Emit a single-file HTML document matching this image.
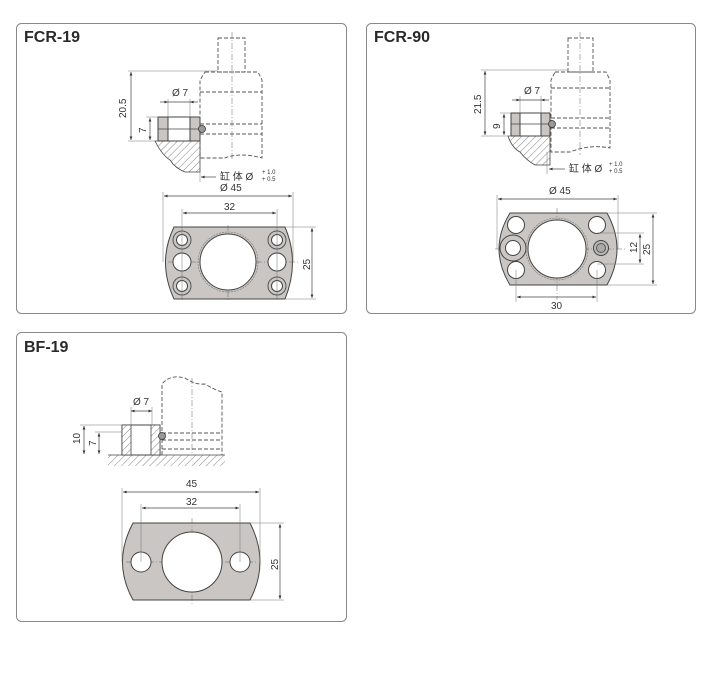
<!DOCTYPE html>
<html><head><meta charset="utf-8"><style>
body{margin:0;background:#fff;width:720px;height:692px;overflow:hidden}
svg{display:block}
text{font-family:"Liberation Sans","Noto Sans CJK SC",sans-serif;fill:#333}
.t{font-weight:bold;font-size:16px;fill:#2a2a2a}
.d{font-size:10px}
.box{fill:none;stroke:#888;stroke-width:1}
.pl{fill:#c9c6c3;stroke:#444;stroke-width:1}
.h{fill:#fff;stroke:#444;stroke-width:1}
.dim{stroke:#444;stroke-width:0.7;fill:none}
.ext{stroke:#777;stroke-width:0.5;fill:none}
.cl{stroke:#666;stroke-width:0.5;stroke-dasharray:6 2 1 2;fill:none}
.ds{stroke:#555;stroke-width:0.9;stroke-dasharray:4 2;fill:none}
.hat{fill:url(#hatch);stroke:#444;stroke-width:0.8}
</style></head><body>
<svg width="720" height="692" viewBox="0 0 720 692" xmlns="http://www.w3.org/2000/svg">
<defs>
<marker id="a" viewBox="0 0 10 10" refX="10" refY="5" markerWidth="7" markerHeight="5" orient="auto-start-reverse"><path d="M0,1 L10,5 L0,9 z" fill="#333"/></marker>
<pattern id="hatch" width="5" height="5" patternUnits="userSpaceOnUse" patternTransform="rotate(45)"><rect width="5" height="5" fill="#fff"/><line x1="0" y1="0" x2="0" y2="5" stroke="#666" stroke-width="0.8"/></pattern>
</defs>
<rect class="box" x="16.5" y="23.5" width="330" height="290" rx="5"/>
<rect class="box" x="366.5" y="23.5" width="329" height="290" rx="5"/>
<rect class="box" x="16.5" y="332.5" width="330" height="289" rx="5"/>
<text class="t" x="24" y="42">FCR-19</text>
<text class="t" x="374" y="42">FCR-90</text>
<text class="t" x="24" y="352">BF-19</text>

<!-- FCR-19 side -->
<line class="cl" x1="232" y1="32" x2="232" y2="160"/>
<rect class="ds" x="218" y="38" width="27" height="34"/>
<path class="ds" d="M205,72 H258 L262,80 V158 Q240,152 225,158 H200 V80 Z"/>
<line class="ds" x1="200" y1="92" x2="262" y2="92"/>
<line class="ds" x1="200" y1="124" x2="262" y2="124"/>
<line class="ds" x1="200" y1="134" x2="262" y2="134"/>
<path class="hat" d="M155,141 H200 V172 H185 Q175,168 170,160 Q162,155 155,141 Z"/>
<rect class="pl" x="158" y="117" width="42" height="24"/>
<rect class="h" x="168" y="117" width="22" height="24"/>
<line class="dim" x1="158" y1="129" x2="200" y2="129"/>
<circle cx="202" cy="129" r="3.5" fill="#999" stroke="#333" stroke-width="0.8"/>
<line class="ext" x1="128" y1="71" x2="218" y2="71"/><line class="ext" x1="128" y1="141" x2="158" y2="141"/>
<line class="dim" x1="131" y1="72" x2="131" y2="140" marker-start="url(#a)" marker-end="url(#a)"/>
<text class="d" transform="translate(126,118) rotate(-90)">20.5</text>
<line class="ext" x1="146" y1="117" x2="158" y2="117"/>
<line class="dim" x1="150" y1="118" x2="150" y2="140" marker-start="url(#a)" marker-end="url(#a)"/>
<text class="d" transform="translate(146,133) rotate(-90)">7</text>
<line class="ext" x1="168" y1="99" x2="168" y2="117"/><line class="ext" x1="190" y1="99" x2="190" y2="117"/>
<line class="dim" x1="160" y1="102" x2="168" y2="102" marker-end="url(#a)"/><line class="dim" x1="198" y1="102" x2="190" y2="102" marker-end="url(#a)"/>
<line class="dim" x1="168" y1="102" x2="190" y2="102"/>
<text class="d" x="172" y="96">Ø 7</text>
<line class="ext" x1="200" y1="158" x2="200" y2="182"/>
<line class="dim" x1="216" y1="177" x2="201" y2="177" marker-end="url(#a)"/>
<text class="d" x="220" y="180">缸 体 Ø</text><text x="262" y="174" font-size="6">+ 1.0</text><text x="262" y="181" font-size="6">+ 0.5</text>

<!-- FCR-19 plate -->
<path class="pl" d="M174,227 H285 Q300,262 285,299 H174 Q157,262 174,227 Z"/>
<line class="cl" x1="168" y1="262" x2="298" y2="262"/>
<line class="cl" x1="228" y1="225" x2="228" y2="302"/>
<circle class="h" cx="228" cy="262" r="28"/>
<circle cx="228" cy="262" r="30" fill="none" stroke="#777" stroke-width="0.6" stroke-dasharray="2 1"/>
<circle class="h" cx="182" cy="262" r="9"/><circle class="h" cx="277" cy="262" r="9"/>
<circle fill="none" stroke="#555" cx="182" cy="240" r="9"/><circle class="h" cx="182" cy="240" r="5.5"/>
<circle fill="none" stroke="#555" cx="182" cy="286" r="9"/><circle class="h" cx="182" cy="286" r="5.5"/>
<circle fill="none" stroke="#555" cx="277" cy="240" r="9"/><circle class="h" cx="277" cy="240" r="5.5"/>
<circle fill="none" stroke="#555" cx="277" cy="286" r="9"/><circle class="h" cx="277" cy="286" r="5.5"/>
<line class="ext" x1="163" y1="192" x2="163" y2="262"/><line class="ext" x1="293" y1="192" x2="293" y2="262"/>
<line class="dim" x1="164" y1="196" x2="292" y2="196" marker-start="url(#a)" marker-end="url(#a)"/>
<text class="d" x="220" y="191">Ø 45</text>
<line class="ext" x1="182" y1="209" x2="182" y2="300"/><line class="ext" x1="277" y1="209" x2="277" y2="300"/>
<line class="dim" x1="183" y1="213" x2="276" y2="213" marker-start="url(#a)" marker-end="url(#a)"/>
<text class="d" x="224" y="210">32</text>
<line class="ext" x1="285" y1="227" x2="316" y2="227"/><line class="ext" x1="285" y1="299" x2="316" y2="299"/>
<line class="dim" x1="312" y1="228" x2="312" y2="298" marker-start="url(#a)" marker-end="url(#a)"/>
<text class="d" transform="translate(310,270) rotate(-90)">25</text>

<!-- FCR-90 side -->
<line class="cl" x1="580" y1="32" x2="580" y2="155"/>
<rect class="ds" x="568" y="38" width="25" height="34"/>
<path class="ds" d="M555,72 H606 L610,80 V148 Q590,144 570,152 H551 V80 Z"/>
<line class="ds" x1="551" y1="88" x2="610" y2="88"/>
<line class="ds" x1="551" y1="118" x2="610" y2="118"/>
<line class="ds" x1="551" y1="128" x2="610" y2="128"/>
<path class="hat" d="M508,136 H550 V165 H535 Q526,160 520,152 Q512,148 508,136 Z"/>
<rect class="pl" x="511" y="113" width="39" height="23"/>
<rect class="h" x="520" y="113" width="21" height="23"/>
<line class="dim" x1="511" y1="124" x2="550" y2="124"/>
<circle cx="552" cy="124" r="3.5" fill="#999" stroke="#333" stroke-width="0.8"/>
<line class="ext" x1="481" y1="70" x2="568" y2="70"/><line class="ext" x1="481" y1="136" x2="511" y2="136"/>
<line class="dim" x1="485" y1="71" x2="485" y2="135" marker-start="url(#a)" marker-end="url(#a)"/>
<text class="d" transform="translate(481,114) rotate(-90)">21.5</text>
<line class="ext" x1="500" y1="113" x2="511" y2="113"/>
<line class="dim" x1="504" y1="114" x2="504" y2="135" marker-start="url(#a)" marker-end="url(#a)"/>
<text class="d" transform="translate(500,129) rotate(-90)">9</text>
<line class="ext" x1="520" y1="96" x2="520" y2="113"/><line class="ext" x1="541" y1="96" x2="541" y2="113"/>
<line class="dim" x1="512" y1="100" x2="520" y2="100" marker-end="url(#a)"/><line class="dim" x1="549" y1="100" x2="541" y2="100" marker-end="url(#a)"/>
<line class="dim" x1="520" y1="100" x2="541" y2="100"/>
<text class="d" x="524" y="94">Ø 7</text>
<line class="ext" x1="547" y1="152" x2="547" y2="174"/>
<line class="dim" x1="565" y1="169" x2="549" y2="169" marker-end="url(#a)"/>
<text class="d" x="569" y="172">缸 体 Ø</text><text x="609" y="166" font-size="6">+ 1.0</text><text x="609" y="173" font-size="6">+ 0.5</text>

<!-- FCR-90 plate -->
<path class="pl" d="M510,213 H607 Q627,249 607,285 H510 Q488,249 510,213 Z"/>
<line class="cl" x1="495" y1="249" x2="625" y2="249"/>
<line class="cl" x1="557" y1="208" x2="557" y2="300"/>
<circle class="h" cx="557" cy="249" r="29"/>
<circle cx="557" cy="249" r="31" fill="none" stroke="#777" stroke-width="0.6" stroke-dasharray="2 1"/>
<circle class="h" cx="516" cy="225" r="8.5"/><circle class="h" cx="516" cy="270" r="8.5"/>
<circle class="h" cx="597" cy="225" r="8.5"/><circle class="h" cx="597" cy="270" r="8.5"/>
<circle fill="#c9c6c3" stroke="#444" cx="513" cy="248" r="13"/><circle class="h" cx="513" cy="248" r="7.5"/>
<circle fill="#bbb" stroke="#444" cx="601" cy="248" r="7.5"/><circle fill="#aaa" stroke="#555" cx="601" cy="248" r="4.5"/>
<line class="ext" x1="497" y1="195" x2="497" y2="249"/><line class="ext" x1="618" y1="195" x2="618" y2="249"/>
<line class="dim" x1="498" y1="199" x2="617" y2="199" marker-start="url(#a)" marker-end="url(#a)"/>
<text class="d" x="549" y="194">Ø 45</text>
<line class="ext" x1="597" y1="233" x2="644" y2="233"/><line class="ext" x1="597" y1="264" x2="644" y2="264"/>
<line class="dim" x1="640" y1="234" x2="640" y2="263" marker-start="url(#a)" marker-end="url(#a)"/>
<text class="d" transform="translate(637,253) rotate(-90)">12</text>
<line class="ext" x1="607" y1="213" x2="657" y2="213"/><line class="ext" x1="607" y1="285" x2="657" y2="285"/>
<line class="dim" x1="653" y1="214" x2="653" y2="284" marker-start="url(#a)" marker-end="url(#a)"/>
<text class="d" transform="translate(650,255) rotate(-90)">25</text>
<line class="ext" x1="516" y1="270" x2="516" y2="302"/><line class="ext" x1="597" y1="270" x2="597" y2="302"/>
<line class="dim" x1="517" y1="297" x2="596" y2="297" marker-start="url(#a)" marker-end="url(#a)"/>
<text class="d" x="551" y="309">30</text>

<!-- BF-19 side -->
<line class="cl" x1="192" y1="378" x2="192" y2="455"/>
<path class="ds" d="M162,455 V384 Q170,374 185,378 Q195,385 205,384 Q215,390 222,392 V455"/>
<line class="ds" x1="162" y1="433" x2="222" y2="433"/>
<line class="ds" x1="162" y1="440" x2="222" y2="440"/>
<line class="ds" x1="162" y1="449" x2="222" y2="449"/>
<rect x="108" y="455" width="117" height="11" fill="url(#hatch)"/>
<line x1="108" y1="455" x2="225" y2="455" stroke="#444" stroke-width="0.8"/>
<rect class="h" x="122" y="425" width="38" height="30"/>
<rect class="hat" x="122" y="425" width="9" height="30"/>
<rect class="hat" x="151" y="425" width="9" height="30"/>
<circle cx="162" cy="436" r="3.5" fill="#999" stroke="#333" stroke-width="0.8"/>
<line class="ext" x1="80" y1="425" x2="122" y2="425"/><line class="ext" x1="95" y1="432" x2="122" y2="432"/>
<line class="dim" x1="84" y1="426" x2="84" y2="454" marker-start="url(#a)" marker-end="url(#a)"/>
<text class="d" transform="translate(80,444) rotate(-90)">10</text>
<line class="dim" x1="99" y1="433" x2="99" y2="454" marker-start="url(#a)" marker-end="url(#a)"/>
<text class="d" transform="translate(96,446) rotate(-90)">7</text>
<line class="ext" x1="131" y1="407" x2="131" y2="425"/><line class="ext" x1="152" y1="407" x2="152" y2="425"/>
<line class="dim" x1="131" y1="411" x2="152" y2="411" marker-start="url(#a)" marker-end="url(#a)"/>
<text class="d" x="133" y="405">Ø 7</text>

<!-- BF-19 plate -->
<path class="pl" d="M133,523 H250 Q270,562 250,600 H133 Q112,562 133,523 Z"/>
<line class="cl" x1="126" y1="562" x2="258" y2="562"/>
<line class="cl" x1="192" y1="518" x2="192" y2="604"/>
<circle class="h" cx="192" cy="562" r="30"/>
<circle class="h" cx="141" cy="562" r="10"/><circle class="h" cx="240" cy="562" r="10"/>
<line class="ext" x1="122" y1="488" x2="122" y2="562"/><line class="ext" x1="260" y1="488" x2="260" y2="562"/>
<line class="dim" x1="123" y1="492" x2="259" y2="492" marker-start="url(#a)" marker-end="url(#a)"/>
<text class="d" x="186" y="487">45</text>
<line class="ext" x1="141" y1="504" x2="141" y2="562"/><line class="ext" x1="240" y1="504" x2="240" y2="562"/>
<line class="dim" x1="142" y1="508" x2="239" y2="508" marker-start="url(#a)" marker-end="url(#a)"/>
<text class="d" x="186" y="505">32</text>
<line class="ext" x1="250" y1="523" x2="284" y2="523"/><line class="ext" x1="250" y1="600" x2="284" y2="600"/>
<line class="dim" x1="280" y1="524" x2="280" y2="599" marker-start="url(#a)" marker-end="url(#a)"/>
<text class="d" transform="translate(278,570) rotate(-90)">25</text>
</svg>
</body></html>
